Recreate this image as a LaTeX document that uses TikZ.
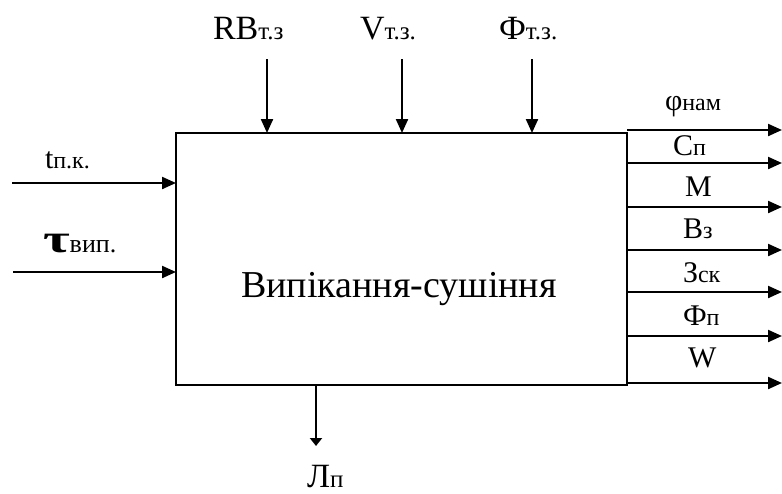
\documentclass[tikz,border=0pt]{standalone}
\usepackage{fontspec}
\usepackage{graphicx}
\setmainfont{Liberation Serif}
\usetikzlibrary{arrows.meta}
\newcommand\FBig{\fontsize{34}{36}\selectfont}
\newcommand\FBigSub{\fontsize{25}{27}\selectfont}
\newcommand\FMid{\fontsize{30}{32}\selectfont}
\newcommand\FMidSub{\fontsize{24}{26}\selectfont}
\newcommand\FMain{\fontsize{38}{40}\selectfont}
\begin{document}
\begin{tikzpicture}[x=1pt,y=-1pt,
  arr/.style={line width=2.2pt,-{Triangle[length=14pt,width=12pt]}},
  lab/.style={inner sep=0pt,outer sep=0pt,anchor=base west},
  blk/.style={draw,line width=1.6pt,inner sep=0pt,outer sep=0pt,minimum width=451pt,minimum height=252pt}]
\useasboundingbox (0,0) rectangle (782,493);
\node[blk] (box) at (401.5,259) {};
\node[inner sep=0pt,anchor=base] (name) at (399,297) {\FMain Випікання-сушіння};
% top inputs
\coordinate (c1) at (267,59);
\coordinate (c2) at (402,59);
\coordinate (c3) at (532,59);
\draw[arr] (c1) -- (c1 |- box.north);
\draw[arr] (c2) -- (c2 |- box.north);
\draw[arr] (c3) -- (c3 |- box.north);
\node[lab] (lc1) at (213,39) {\FBig RB{\FBigSub т.з}};
\node[lab] (lc2) at (360,39) {\FBig V{\FBigSub т.з.}};
\node[lab] (lc3) at (499,39) {\FBig Ф{\FBigSub т.з.}};
% left inputs
\coordinate (i1) at (12,183);
\coordinate (i2) at (13,272);
\draw[arr] (i1) -- (i1 -| box.west);
\draw[arr] (i2) -- (i2 -| box.west);
\node[lab] (li1) at (45,168) {\FMid t{\FMidSub п.к.}};
\node[lab] (li2) at (43,252) {\scalebox{1.45}[1]{\fontsize{40}{42}\selectfont\bfseries τ}{\fontsize{26}{28}\selectfont вип.}};
% bottom
\coordinate (m1) at (316,446);
\draw[line width=2.2pt,-{Triangle[length=8pt,width=12pt]}] (m1 |- box.south) -- (m1);
\node[lab] (lm1) at (307,487) {\FBig Л{\FBigSub п}};
% outputs
\foreach \n/\yy in {1/130,2/163,3/207,4/250,5/292,6/336,7/383}{
  \coordinate (o\n) at (782,\yy);
  \draw[arr] (o\n -| box.east) -- (o\n);
}
\node[lab] (lo1) at (665,110) {\FMid φ{\FMidSub нам}};
\node[lab] (lo2) at (673,155) {\FMid С{\FMidSub п}};
\node[lab] (lo3) at (685,196) {\FMid М};
\node[lab] (lo4) at (683,238) {\FMid В{\FMidSub з}};
\node[lab] (lo5) at (683,282) {\FMid З{\FMidSub ск}};
\node[lab] (lo6) at (683,325) {\FMid Ф{\FMidSub п}};
\node[lab] (lo7) at (688,367) {\FMid W};
\end{tikzpicture}
\end{document}
